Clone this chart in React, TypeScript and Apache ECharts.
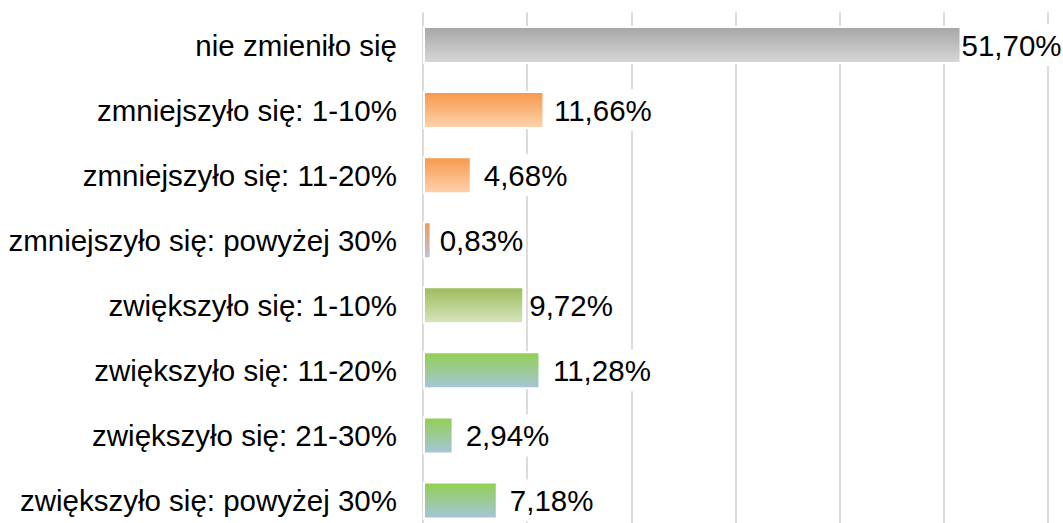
import React, { useEffect, useRef } from "react";
import * as echarts from "echarts";

const categories = [
  "nie zmieniło się",
  "zmniejszyło się: 1-10%",
  "zmniejszyło się: 11-20%",
  "zmniejszyło się: powyżej 30%",
  "zwiększyło się: 1-10%",
  "zwiększyło się: 11-20%",
  "zwiększyło się: 21-30%",
  "zwiększyło się: powyżej 30%",
];
const values = [51.7, 11.66, 4.68, 0.83, 9.72, 11.28, 2.94, 7.18];

// style: gradient [top, bottom] per bar, label gap per bar
const gradients: [string, string][] = [
  ["#a6a6a6", "#d8d8d8"],
  ["#f7984a", "#fdd3ad"],
  ["#f7984a", "#fdd3ad"],
  ["#f3994c", "#b8c6de"],
  ["#9bbb59", "#d8e5bf"],
  ["#92d050", "#a6c5db"],
  ["#92d050", "#a6c5db"],
  ["#92d050", "#a6c5db"],
];
const labelGaps = [-1, 8.5, 11, 7, 4, 11.5, 11, 11];

const FONT = "Liberation Sans, Arial, sans-serif";

export default function App() {
  const ref = useRef<HTMLDivElement>(null);
  useEffect(() => {
    if (!ref.current) return;
    const chart = echarts.init(ref.current, null, { renderer: "svg" });
    chart.setOption({
      animation: false,
      backgroundColor: "#ffffff",
      grid: { left: 423, right: 15, top: 12.5, bottom: 0, containLabel: false },
      xAxis: {
        type: "value",
        min: 0,
        max: 60,
        interval: 10,
        axisLabel: { show: false },
        axisLine: { show: false },
        axisTick: { show: false },
        splitLine: { show: true, lineStyle: { color: "#dcdcdc", width: 2 } },
      },
      yAxis: {
        type: "category",
        inverse: true,
        data: categories,
        axisLine: { show: false },
        axisTick: { show: false },
        axisLabel: {
          margin: 26,
          fontSize: 29.5,
          color: "#000000",
          fontFamily: FONT,
        },
      },
      series: [
        {
          type: "bar",
          barWidth: 38,
          data: values.map((v, i) => ({
            value: v,
            itemStyle: {
              color: new echarts.graphic.LinearGradient(0, 0, 0, 1, [
                { offset: 0, color: gradients[i][0] },
                { offset: 1, color: gradients[i][1] },
              ]),
              borderColor: "#ffffff",
              borderWidth: 2,
            },
            label: { distance: labelGaps[i] },
          })),
          label: {
            show: true,
            position: "right",
            fontSize: 29.5,
            color: "#000000",
            fontFamily: FONT,
            backgroundColor: "#ffffff",
            padding: [6, 1],
            formatter: (p: any) => p.value.toFixed(2).replace(".", ",") + "%",
          },
        },
      ],
    });
    return () => chart.dispose();
  }, []);
  return (
    <div
      ref={ref}
      style={{ position: "fixed", left: 0, top: 0, width: 1063, height: 533 }}
    />
  );
}
